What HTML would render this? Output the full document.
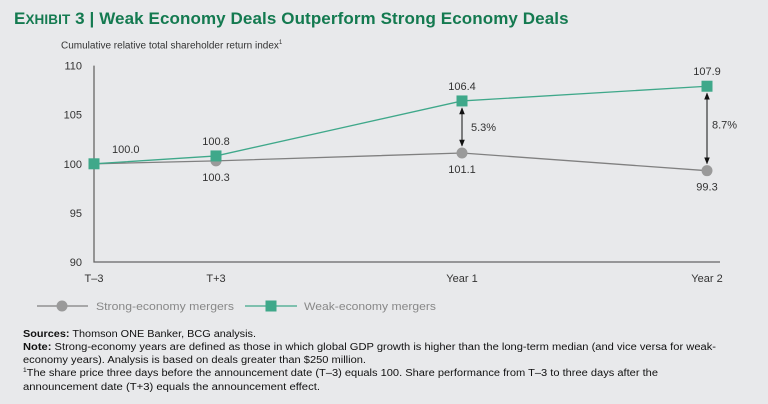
<!DOCTYPE html>
<html><head><meta charset="utf-8"><style>
body{margin:0;width:768px;height:404px;background:#e8e9eb;font-family:"Liberation Sans",sans-serif;overflow:hidden;position:relative}
.t{position:absolute}
</style></head><body>
<div class="t" style="left:14px;top:9px;font-size:17px;font-weight:bold;color:#147a50;letter-spacing:0.1px">E<span style="font-size:13.5px">XHIBIT</span> 3 | Weak Economy Deals Outperform Strong Economy Deals</div>
<div class="t" style="left:61px;top:40px;font-size:10px;color:#333">Cumulative relative total shareholder return index<sup style="font-size:6px">1</sup></div>
<svg id="chart" width="768" height="404" style="position:absolute;left:0;top:0" font-family="Liberation Sans, sans-serif">
<g font-size="10" fill="#111" lengthAdjust="spacingAndGlyphs">
<text x="23" y="337" textLength="233" lengthAdjust="spacingAndGlyphs"><tspan font-weight="bold">Sources:</tspan> Thomson ONE Banker, BCG analysis.</text>
<text x="23" y="350" textLength="693" lengthAdjust="spacingAndGlyphs"><tspan font-weight="bold">Note:</tspan> Strong-economy years are defined as those in which global GDP growth is higher than the long-term median (and vice versa for weak-</text>
<text x="23" y="363" textLength="343" lengthAdjust="spacingAndGlyphs">economy years). Analysis is based on deals greater than $250 million.</text>
<text x="23" y="376" textLength="635" lengthAdjust="spacingAndGlyphs"><tspan font-size="6" dy="-4">1</tspan><tspan dy="4">The share price three days before the announcement date (T–3) equals 100. Share performance from T–3 to three days after the</tspan></text>
<text x="23" y="390" textLength="297" lengthAdjust="spacingAndGlyphs">announcement date (T+3) equals the announcement effect.</text>
</g>
</svg>
<script>
const categories=["T–3","T+3","Year 1","Year 2"];
const strong=[100.0,100.3,101.1,99.3];
const weak=[100.0,100.8,106.4,107.9];
const yTicks=[90,95,100,105,110];
const gaps=["5.3%","8.7%"];
const svg=document.getElementById('chart');
const NS='http://www.w3.org/2000/svg';
const xPos=[94,216,462,707];
const x=i=>xPos[i];
const y=v=>262-(v-90)*9.82;
function el(tag,attrs,parent){const e=document.createElementNS(NS,tag);for(const k in attrs)e.setAttribute(k,attrs[k]);(parent||svg).appendChild(e);return e;}
function txt(s,xx,yy,anchor,name){const t=el('text',{x:xx,y:yy,'font-size':11,fill:'#333','text-anchor':anchor||'middle'});t.textContent=s;


return t;}
const defs=el('defs',{});
const m=el('marker',{id:'ar',viewBox:'0 0 10 10',refX:9,refY:5,markerWidth:7,markerHeight:7,orient:'auto-start-reverse'},defs);
el('path',{d:'M0,1 L10,5 L0,9 z',fill:'#111'},m);
yTicks.forEach(v=>{txt(String(v),82,y(v)+4,'end','y-tick-label');});
categories.forEach((c,i)=>{txt(c,x(i),282,'middle','x-tick-label');});
const ax=el('path',{d:`M94,${y(110)} V262 H720`,stroke:'#666','stroke-width':1.3,fill:'none'});


const sl=el('polyline',{points:strong.map((v,i)=>x(i)+','+y(v)).join(' '),stroke:'#808080','stroke-width':1.3,fill:'none'});


const wl=el('polyline',{points:weak.map((v,i)=>x(i)+','+y(v)).join(' '),stroke:'#3fa88a','stroke-width':1.3,fill:'none'});


[2,3].forEach((i,k)=>{
 const a=el('line',{x1:x(i),y1:y(weak[i])+7,x2:x(i),y2:y(strong[i])-7,stroke:'#111','stroke-width':1,'marker-start':'url(#ar)','marker-end':'url(#ar)'});
 
 
 const mid=(y(weak[i])+y(strong[i]))/2;
 txt(gaps[k],x(i)+(k?5:9),mid+4+(k?-4:0),'start','gap-label');
});
strong.forEach((v,i)=>{if(i===0)return;
 const c=el('circle',{cx:x(i),cy:y(v),r:5.5,fill:'#9a9a9a'});
 
 
 txt(v.toFixed(1),x(i),y(v)+20,'middle','strong-value');
});
weak.forEach((v,i)=>{
 const r=el('rect',{x:x(i)-5.5,y:y(v)-5.5,width:11,height:11,fill:'#3fa88a'});
 
 
 txt(v.toFixed(1),i===0?x(i)+18:x(i),y(v)-11,i===0?'start':'middle','weak-value');
});
const lg=el('g',{});


el('line',{x1:37,y1:306,x2:88,y2:306,stroke:'#808080','stroke-width':1.3},lg);
el('circle',{cx:62,cy:306,r:5.5,fill:'#9a9a9a'},lg);
const t1=txt('Strong-economy mergers',96,310,'start','legend-strong');t1.setAttribute('fill','#888');t1.setAttribute('textLength','138');t1.setAttribute('lengthAdjust','spacingAndGlyphs');lg.appendChild(t1);
el('line',{x1:245,y1:306,x2:297,y2:306,stroke:'#3fa88a','stroke-width':1.3},lg);
el('rect',{x:265.5,y:300.5,width:11,height:11,fill:'#3fa88a'},lg);
const t2=txt('Weak-economy mergers',304,310,'start','legend-weak');t2.setAttribute('fill','#888');t2.setAttribute('textLength','132');t2.setAttribute('lengthAdjust','spacingAndGlyphs');lg.appendChild(t2);
</script>
</body></html>
